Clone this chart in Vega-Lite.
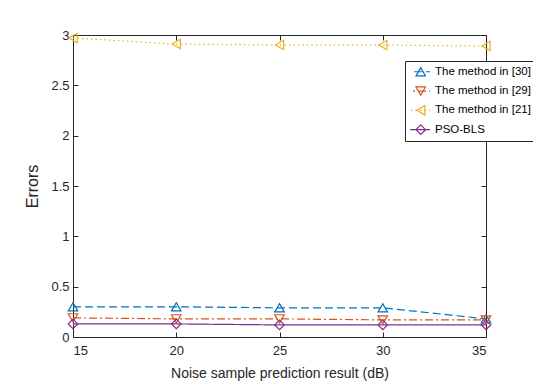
{
  "$schema": "https://vega.github.io/schema/vega-lite/v6.json",
  "autosize": {"type": "none"},
  "padding": {"left": 73, "top": 35, "right": 47, "bottom": 49},
  "width": 413,
  "height": 302,
  "background": "white",
  "config": {
    "view": {"stroke": null},
    "font": "Liberation Sans",
    "axis": {"grid": false, "domainColor": "#262626", "tickColor": "#262626", "labelColor": "#262626", "titleColor": "#262626", "labelFontSize": 13, "titleFontSize": 15, "titleFontWeight": "normal", "domainWidth": 1, "tickWidth": 1}
  },
  "data": {"values": [
    {"method": "The method in [30]", "m2": "30", "x": 15, "y": 0.30},
    {"method": "The method in [30]", "m2": "30", "x": 20, "y": 0.30},
    {"method": "The method in [30]", "m2": "30", "x": 25, "y": 0.29},
    {"method": "The method in [30]", "m2": "30", "x": 30, "y": 0.29},
    {"method": "The method in [30]", "m2": "30", "x": 35, "y": 0.18},
    {"method": "The method in [29]", "m2": "29", "x": 15, "y": 0.19},
    {"method": "The method in [29]", "m2": "29", "x": 20, "y": 0.18},
    {"method": "The method in [29]", "m2": "29", "x": 25, "y": 0.18},
    {"method": "The method in [29]", "m2": "29", "x": 30, "y": 0.17},
    {"method": "The method in [29]", "m2": "29", "x": 35, "y": 0.17},
    {"method": "The method in [21]", "m2": "21", "x": 15, "y": 2.97},
    {"method": "The method in [21]", "m2": "21", "x": 20, "y": 2.91},
    {"method": "The method in [21]", "m2": "21", "x": 25, "y": 2.90},
    {"method": "The method in [21]", "m2": "21", "x": 30, "y": 2.90},
    {"method": "The method in [21]", "m2": "21", "x": 35, "y": 2.89},
    {"method": "PSO-BLS", "m2": "PSO", "x": 15, "y": 0.13},
    {"method": "PSO-BLS", "m2": "PSO", "x": 20, "y": 0.13},
    {"method": "PSO-BLS", "m2": "PSO", "x": 25, "y": 0.12},
    {"method": "PSO-BLS", "m2": "PSO", "x": 30, "y": 0.12},
    {"method": "PSO-BLS", "m2": "PSO", "x": 35, "y": 0.12}
  ]},
  "layer": [
    {
      "mark": {"type": "line", "strokeWidth": 1.2},
      "encoding": {
        "x": {"field": "x", "type": "quantitative", "scale": {"domain": [15, 35], "nice": false, "zero": false},
              "axis": {"orient": "bottom", "values": [15, 20, 25, 30, 35], "tickSize": -5, "labelPadding": 12, "title": "Noise sample prediction result (dB)", "titleFontSize": 14, "titlePadding": 9}},
        "y": {"field": "y", "type": "quantitative", "scale": {"domain": [0, 3], "nice": false},
              "axis": {"orient": "left", "values": [0, 0.5, 1, 1.5, 2, 2.5, 3], "format": "~g", "tickSize": -5, "labelPadding": 9, "title": "Errors", "titleFontSize": 16, "titlePadding": 10}},
        "color": {"field": "method", "type": "nominal",
                  "scale": {"domain": ["The method in [30]", "The method in [29]", "The method in [21]", "PSO-BLS"], "range": ["#0072BD", "#D95319", "#EDB120", "#7E2F8E"]},
                  "legend": {"orient": "none", "legendX": 332, "legendY": 26, "title": null, "symbolType": "M-2.8,0H2.8", "symbolSize": 100, "symbolStrokeWidth": 1.2, "labelFontSize": 11.5, "labelColor": "#000000", "labelOffset": 13, "padding": 5, "rowPadding": 6.3, "clipHeight": 11.5, "strokeColor": "#262626", "fillColor": "white"}},
        "strokeDash": {"field": "method", "type": "nominal",
                       "scale": {"domain": ["The method in [30]", "The method in [29]", "The method in [21]", "PSO-BLS"], "range": [[8, 4], [8, 3, 2, 3], [1.5, 3], [1, 0]]},
                       "legend": {"orient": "none", "legendX": 332, "legendY": 26, "title": null}}
      }
    },
    {
      "mark": {"type": "point", "filled": false, "strokeWidth": 1.2, "size": 90, "opacity": 1},
      "encoding": {
        "x": {"field": "x", "type": "quantitative",
              "axis": {"orient": "top", "values": [15, 20, 25, 30, 35], "tickSize": -5, "labels": false, "title": null}},
        "y": {"field": "y", "type": "quantitative",
              "axis": {"orient": "right", "values": [0, 0.5, 1, 1.5, 2, 2.5, 3], "tickSize": -5, "labels": false, "title": null}},
        "stroke": {"field": "m2", "type": "nominal",
                   "scale": {"domain": ["30", "29", "21", "PSO"], "range": ["#0072BD", "#D95319", "#EDB120", "#7E2F8E"]},
                   "legend": {"orient": "none", "legendX": 337, "legendY": 26, "title": null, "symbolSize": 90, "symbolStrokeWidth": 1.2, "symbolFillColor": "transparent", "labelFontSize": 11.5, "labelExpr": "''", "labelOffset": 0, "padding": 5, "rowPadding": 6.3, "clipHeight": 11.5}},
        "shape": {"field": "m2", "type": "nominal",
                  "scale": {"domain": ["30", "29", "21", "PSO"], "range": ["triangle-up", "triangle-down", "triangle-left", "diamond"]},
                  "legend": {"orient": "none", "legendX": 337, "legendY": 26, "title": null}}
      }
    }
  ],
  "resolve": {"axis": {"x": "independent", "y": "independent"}}
}
